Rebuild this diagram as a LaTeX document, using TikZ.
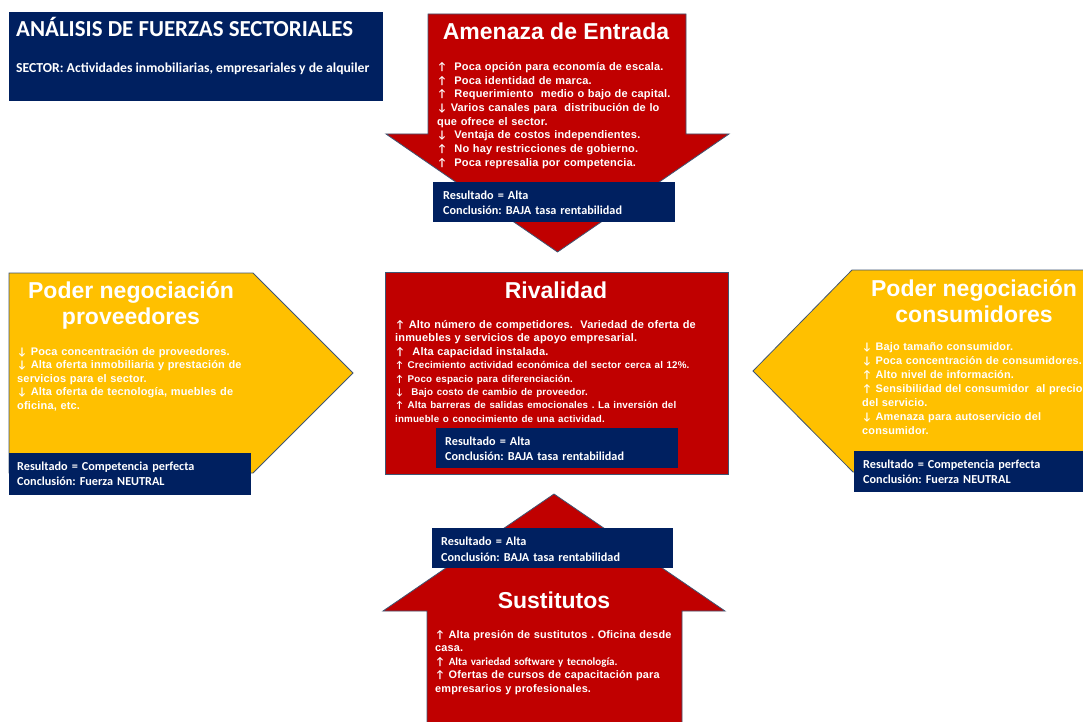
\documentclass[tikz,border=0pt]{standalone}
\usepackage{fontspec}
\newfontfamily\arialf{Liberation Sans}
\newfontfamily\arialsp{Liberation Sans}[LetterSpace=1.5]
\newfontfamily\calibf{Carlito}
\definecolor{navyb}{HTML}{002060}
\definecolor{redf}{HTML}{C00000}
\definecolor{yellowf}{HTML}{FFC000}
\definecolor{edgec}{HTML}{3F5573}
% bullet arrows set in Carlito, which draws them full size
\newcommand\upa{{\calibf\bfseries ↑}}
\newcommand\dna{{\calibf\bfseries ↓}}
\begin{document}
\frenchspacing
\begin{tikzpicture}[x=1pt,y=-1pt,
  shapeedge/.style={draw=edgec, line width=0.8pt, line join=miter},
  headtxt/.style={text=white, font=\arialf\bfseries\fontsize{23}{25.5}\selectfont, inner sep=0, anchor=base, align=center},
  bodytxt/.style={text=white, inner sep=0, anchor=base west, align=left, text width=330pt},
  restxt/.style={text=white, inner sep=0, anchor=base west, align=left, text width=250pt,
    font=\calibf\bfseries\fontsize{12.2}{15.5}\selectfont},
]
\useasboundingbox (0,0) rectangle (1083,722);
\clip (0,0) rectangle (1083,722);

% title panel
\fill[navyb] (9,12) rectangle (383,101);
\node[anchor=base west, inner sep=0, text=white, font=\calibf\bfseries\fontsize{22.9}{26}\selectfont] (title) at (16,37) {ANÁLISIS DE FUERZAS SECTORIALES};
\node[anchor=base west, inner sep=0, text=white, font=\calibf\bfseries\fontsize{13.7}{15}\selectfont] (sector) at (16,72.5) {SECTOR: Actividades inmobiliarias, empresariales y de alquiler};

% threat of entry: arrow pointing down
\path[fill=redf, shapeedge] (428,14) -- (686,14) -- (686,134) -- (729,134) -- (557.5,252) -- (386,134) -- (428,134) -- cycle;
\node[headtxt] (entrada) at (556,39.5) {Amenaza de Entrada};
\node[bodytxt, font=\arialsp\bfseries\fontsize{11}{13.65}\selectfont] (entradatxt) at (437,70.5) {%
\upa\ \ Poca opción para economía de escala.\\
\upa\ \ Poca identidad de marca.\\
\upa\ \ Requerimiento\ \ medio o bajo de capital.\\
\dna\ Varios canales para\ \ distribución de lo\\
que ofrece el sector.\\
\dna\ \ Ventaja de costos\ independientes.\\
\upa\ \ No hay restricciones\ de gobierno.\\
\upa\ \ Poca represalia por competencia.};
\fill[navyb] (433,182) rectangle (675,222);
\node[restxt] (entradares) at (443,199) {Resultado = Alta\\Conclusión: BAJA tasa rentabilidad};

% rivalry
\path[fill=redf, shapeedge] (385,272) rectangle (728,474);
\node[headtxt] (rival) at (556,298) {Rivalidad};
\node[bodytxt, font=\arialsp\bfseries\fontsize{11}{13.43}\selectfont] (rivaltxt) at (395,328.3) {%
\upa\ Alto número de competidores.\ \ Variedad de oferta de\\
inmuebles y servicios de apoyo empresarial.\\
\upa\ \ Alta capacidad instalada.\\
{\fontsize{9.8}{13.43}\selectfont \upa\ Crecimiento actividad económica del sector cerca al 12\%.\\
\upa\ Poco espacio para diferenciación.\\
\dna\ \ Bajo costo de cambio de proveedor.\\
\upa\ Alta barreras de salidas emocionales . La inversión del\\
inmueble o conocimiento de una actividad.}};
\fill[navyb] (436,428) rectangle (678,468);
\node[restxt] (rivalres) at (445,445) {Resultado = Alta\\Conclusión: BAJA tasa rentabilidad};

% supplier power: arrow pointing right
\path[fill=yellowf, shapeedge] (9,273) -- (253,273) -- (353,373) -- (253,473) -- (9,473) -- cycle;
\node[headtxt] (prov) at (131,324) {Poder negociación\\proveedores};
\node[bodytxt, font=\arialsp\bfseries\fontsize{11}{13.5}\selectfont] (provtxt) at (17,355) {%
\dna\ Poca concentración de proveedores.\\
\dna\ Alta oferta inmobiliaria y prestación de\\
servicios\ para el sector.\\
\dna\ Alta oferta de tecnología, muebles de\\
oficina, etc.};
\fill[navyb] (9,453) rectangle (251,495);
\node[restxt] (provres) at (17,470) {Resultado = Competencia perfecta\\Conclusión: Fuerza NEUTRAL};

% buyer power: arrow pointing left
\path[fill=yellowf, shapeedge] (1095,270) -- (852,270) -- (753,371) -- (853,472) -- (1095,472) -- cycle;
\node[headtxt] (cons) at (974,322) {Poder negociación\\consumidores};
\node[bodytxt, font=\arialsp\bfseries\fontsize{10.9}{14}\selectfont] (constxt) at (862,350) {%
\dna\ Bajo tamaño consumidor.\\
\dna\ Poca concentración de consumidores.\\
\upa\ Alto nivel de información.\\
\upa\ Sensibilidad del consumidor\ \ al precio\\
del servicio.\\
\dna\ Amenaza para autoservicio del\\
consumidor.};
\fill[navyb] (854,451) rectangle (1083,492);
\node[restxt] (consres) at (863,468.3) {Resultado = Competencia perfecta\\Conclusión: Fuerza NEUTRAL};

% substitutes: arrow pointing up
\path[fill=redf, shapeedge] (554,494) -- (725,611) -- (682,611) -- (682,730) -- (427,730) -- (427,611) -- (383,611) -- cycle;
\node[headtxt] (sust) at (554,608.3) {Sustitutos};
\node[bodytxt, font=\arialsp\bfseries\fontsize{10.9}{13.6}\selectfont] (susttxt) at (435,638) {%
\upa\ Alta presión de sustitutos\ . Oficina desde\\
casa.\\
{\calibf\fontsize{11}{13.6}\selectfont \upa\ Alta variedad software y tecnología.}\\
\upa\ Ofertas de cursos\ de capacitación para\\
empresarios y profesionales.};
\fill[navyb] (432,528) rectangle (673,568);
\node[restxt] (sustres) at (441,545.7) {Resultado = Alta\\Conclusión: BAJA tasa rentabilidad};
\end{tikzpicture}
\end{document}
